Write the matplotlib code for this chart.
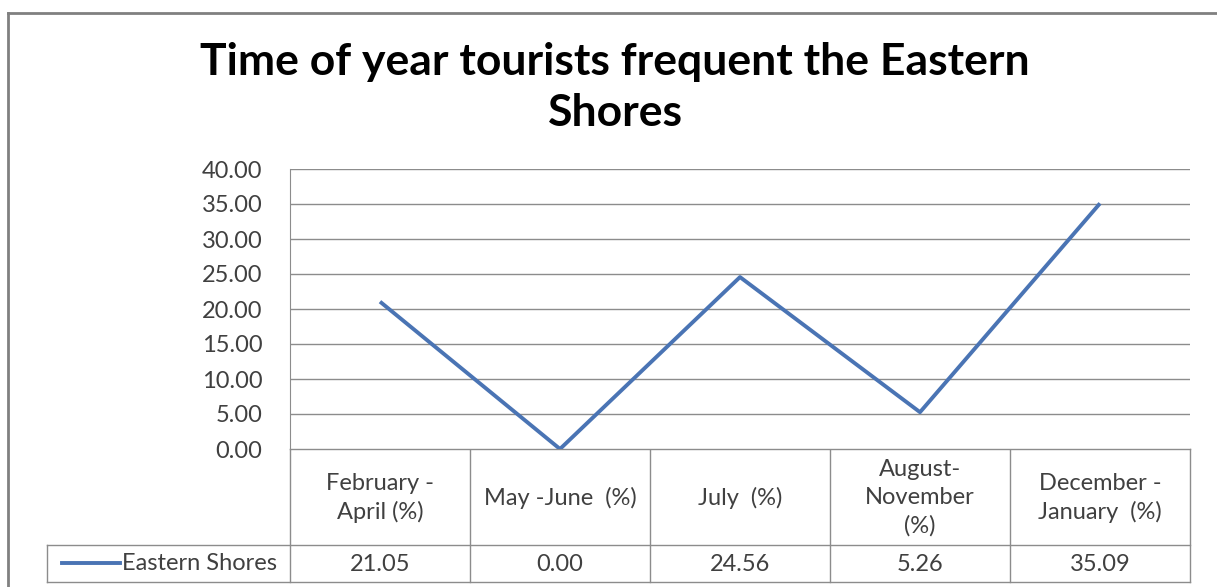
import matplotlib.pyplot as plt
import numpy as np

# данные для графика
categories = ["February -\nApril (%)", "May -June  (%)", "July  (%)",
              "August-\nNovember\n(%)", "December -\nJanuary  (%)"]
eastern_shores = [21.05, 0.00, 24.56, 5.26, 35.09]
series_name = "Eastern Shores"
y_ticks = [0, 5, 10, 15, 20, 25, 30, 35, 40]

W, H = 1217, 587
FONT = "Lato"
LINE_COLOR = "#4A74B4"
GRID_COLOR = "#8C8C8C"
TEXT_COLOR = "#404040"
CELL_FS = 17

fig = plt.figure(figsize=(W / 100, H / 100), dpi=100)

# фоновая ось в пикселях: рамка и таблица данных
bg = fig.add_axes([0, 0, 1, 1])
bg.set_xlim(0, W)
bg.set_ylim(H, 0)
bg.axis("off")
bg.plot([8, W], [13, 13], color="#808080", lw=2)
bg.plot([8, 8], [13, H], color="#808080", lw=2)

# область графика
left, right, top, bottom = 290, 1190, 169, 449
ax = fig.add_axes([left / W, 1 - bottom / H, (right - left) / W, (bottom - top) / H])
n = len(eastern_shores)
x = np.arange(n)
ax.plot(x, eastern_shores, color=LINE_COLOR, lw=2.8, solid_capstyle="butt")
ax.set_xlim(-0.5, n - 0.5)
ax.set_ylim(0, 40)
ax.set_yticks(y_ticks)
ax.set_yticklabels([f"{v:.2f}" for v in y_ticks], fontname=FONT,
                   fontsize=17, color=TEXT_COLOR)
ax.tick_params(axis="y", length=0, pad=20)
ax.set_xticks([])
ax.grid(axis="y", color=GRID_COLOR, lw=1)
for s in ["top", "right", "bottom"]:
    ax.spines[s].set_visible(False)
ax.spines["left"].set_color(GRID_COLOR)

# заголовок
fig.text(615 / W, 1 - 62 / H, "Time of year tourists frequent the Eastern",
         ha="center", va="center", fontname=FONT, fontweight="bold", fontsize=32)
fig.text(615 / W, 1 - 113 / H, "Shores",
         ha="center", va="center", fontname=FONT, fontweight="bold", fontsize=32)

# таблица данных под осью
col_w = (right - left) / n
head_bottom, row_bottom = 545, 582
legend_left = 47
edges = [left + i * col_w for i in range(n + 1)]
for e in edges:
    bg.plot([e, e], [bottom, row_bottom], color=GRID_COLOR, lw=1)
bg.plot([legend_left, legend_left], [head_bottom, row_bottom], color=GRID_COLOR, lw=1)
bg.plot([left, right], [bottom, bottom], color=GRID_COLOR, lw=1)
bg.plot([legend_left, right], [head_bottom, head_bottom], color=GRID_COLOR, lw=1)
bg.plot([legend_left, right], [row_bottom, row_bottom], color=GRID_COLOR, lw=1)

for i, (cat, val) in enumerate(zip(categories, eastern_shores)):
    cx = left + (i + 0.5) * col_w
    bg.text(cx, (bottom + head_bottom) / 2 + 1, cat, ha="center", va="center",
            fontname=FONT, fontsize=CELL_FS, color=TEXT_COLOR, linespacing=1.4)
    bg.text(cx, (head_bottom + row_bottom) / 2 + 1, f"{val:.2f}", ha="center",
            va="center", fontname=FONT, fontsize=CELL_FS, color=TEXT_COLOR)

# ключ легенды в первой ячейке
bg.plot([62, 120], [563, 563], color=LINE_COLOR, lw=2.8)
bg.text(122, 563, series_name, ha="left", va="center",
        fontname=FONT, fontsize=CELL_FS, color=TEXT_COLOR)

fig.savefig("out.png", dpi=100)
